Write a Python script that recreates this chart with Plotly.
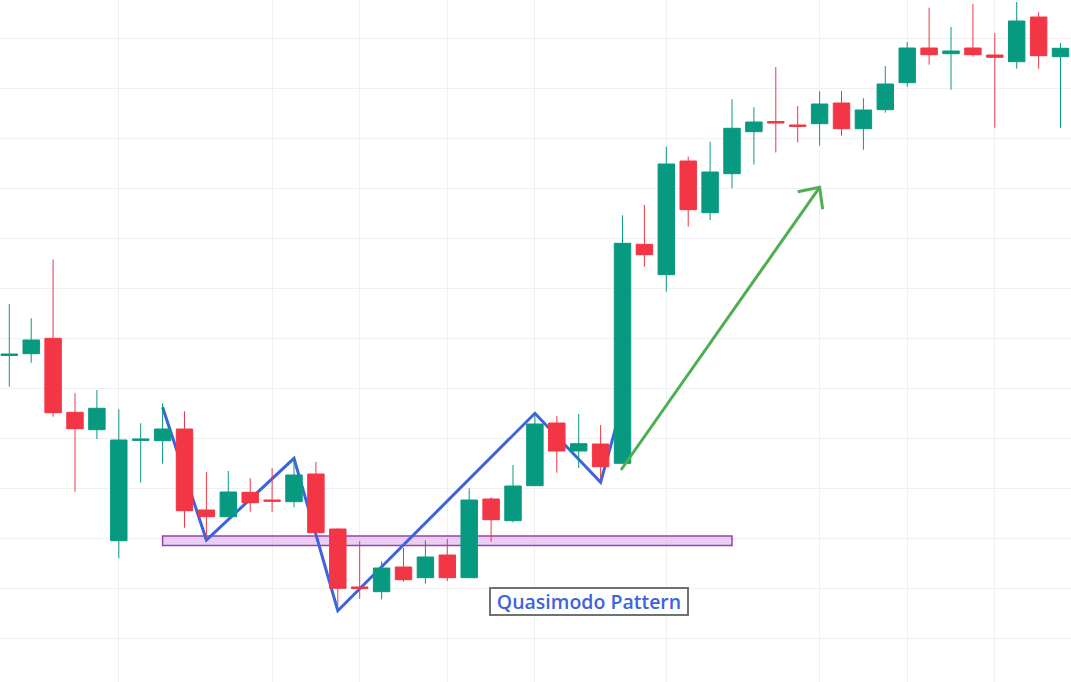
import plotly.graph_objects as go

# ---- data (price units; gridlines every 10) ----
idx = list(range(49))
opens = [66.5, 66.86, 69.94, 55.14, 51.66, 29.46, 49.52, 49.46, 51.8, 35.6,
         34.26, 39.14, 37.6, 37.26, 42.8, 31.8, 20.2, 19.26, 24.2, 22.06,
         26.6, 22.06, 37.8, 33.46, 40.46, 53.0, 47.4, 48.8, 44.94, 88.74,
         82.66, 105.4, 95.06, 102.86, 111.26, 113.28, 112.6, 112.86, 117.0, 111.86,
         115.66, 121.06, 128.0, 126.86, 128.0, 126.6, 125.26, 134.2, 126.26]
highs = [76.8, 73.94, 85.74, 58.94, 59.6, 55.74, 52.94, 56.94, 55.34, 43.2,
         43.4, 41.94, 43.94, 46.0, 45.2, 31.9, 29.34, 25.34, 28.0, 29.54,
         29.8, 39.94, 38.14, 44.6, 55.0, 54.4, 54.8, 52.6, 94.54, 96.6,
         108.26, 106.26, 109.26, 117.74, 116.14, 124.2, 116.4, 119.34, 119.4, 117.94,
         124.4, 129.2, 136.06, 132.2, 136.8, 131.0, 137.2, 135.14, 129.0]
lows = [60.26, 65.06, 54.26, 39.26, 49.8, 25.94, 41.06, 44.86, 32.06, 30.3,
        34.2, 35.26, 35.26, 36.14, 31.0, 16.4, 17.86, 17.74, 21.26, 20.86,
        21.4, 22.0, 29.26, 33.14, 40.4, 43.06, 44.0, 42.0, 44.9, 84.26,
        79.26, 92.26, 93.6, 99.94, 104.7, 107.1, 109.1, 108.5, 110.46, 107.66,
        115.06, 120.26, 124.66, 119.66, 126.26, 112.06, 123.86, 123.86, 112.06]
closes = [66.8, 69.6, 55.06, 51.86, 55.94, 49.6, 49.8, 51.8, 35.46, 34.26,
          39.2, 37.06, 37.36, 42.6, 31.06, 19.94, 19.92, 24.0, 21.66, 26.2,
          22.06, 37.6, 33.66, 40.4, 52.8, 47.4, 48.86, 44.26, 88.94, 86.66,
          104.8, 95.66, 103.2, 111.94, 113.2, 113.0, 112.32, 116.8, 111.86, 115.6,
          120.8, 128.0, 126.66, 127.4, 126.66, 126.14, 133.4, 126.46, 127.94]

y_grid = [10, 20, 30, 40, 50, 60, 70, 80, 90, 100, 110, 120, 130]
x_grid = [5, 12, 16, 20, 24, 30, 37, 41, 45]

# pattern overlay (zigzag, zone, arrow, label)
zig_x = [7.0, 9.0, 13.0, 15.0, 24.0, 27.0, 27.8]
zig_y = [56.14, 29.6, 45.94, 15.46, 54.94, 41.12, 53.8]
zone_x = [7.0, 33.0]
zone_y = [28.5, 30.4]
arrow_x = [27.93, 37.0]
arrow_y = [43.6, 100.14]
head_x = [36.0, 37.0, 37.14]
head_y = [99.26, 100.14, 95.74]
label_text = "Quasimodo Pattern"
label_pos = (26.49, 17.3)

GREEN = "#089981"
RED = "#f23645"

fig = go.Figure()
fig.add_trace(go.Candlestick(
    x=idx, open=opens, high=highs, low=lows, close=closes,
    increasing=dict(line=dict(color=GREEN, width=1), fillcolor=GREEN),
    decreasing=dict(line=dict(color=RED, width=1), fillcolor=RED),
    whiskerwidth=0, showlegend=False, hoverinfo="skip",
))

# arrow shaft + head
fig.add_trace(go.Scatter(x=arrow_x, y=arrow_y, mode="lines",
                         line=dict(color="#4caf50", width=3), showlegend=False,
                         hoverinfo="skip"))
fig.add_trace(go.Scatter(x=head_x, y=head_y, mode="lines",
                         line=dict(color="#4caf50", width=3), showlegend=False,
                         hoverinfo="skip"))

shapes = [
    dict(type="rect", xref="x", yref="y", x0=zone_x[0], x1=zone_x[1],
         y0=zone_y[0], y1=zone_y[1], fillcolor="rgba(215,160,230,0.5)",
         line=dict(color="#9c3fb0", width=1.5), layer="between"),
    dict(type="path", xref="x", yref="y",
         path="M " + " L ".join(f"{a},{b}" for a, b in zip(zig_x, zig_y)),
         line=dict(color="#3d63dd", width=3), layer="between"),
]

fig.update_layout(
    width=1071, height=682, autosize=False,
    margin=dict(l=0, r=0, t=0, b=0),
    paper_bgcolor="white", plot_bgcolor="white",
    boxgap=0.25, boxgroupgap=0,
    shapes=shapes,
    xaxis=dict(range=[-0.4247, 48.479], rangeslider=dict(visible=False),
               tickmode="array", tickvals=x_grid, showticklabels=False,
               showgrid=True, gridcolor="#eef0f3", gridwidth=1,
               zeroline=False, showline=False, fixedrange=True),
    yaxis=dict(range=[1.2, 137.6], tickmode="array", tickvals=y_grid,
               showticklabels=False, showgrid=True, gridcolor="#eef0f3",
               gridwidth=1, zeroline=False, showline=False, fixedrange=True),
    annotations=[dict(x=label_pos[0], y=label_pos[1], xref="x", yref="y",
                      text=label_text, showarrow=False,
                      font=dict(family="Open Sans", size=19.5, color="#3d63dd", weight=600),
                      bgcolor="white", bordercolor="#6b7378", borderwidth=2,
                      borderpad=1, width=194, height=23)],
)

fig.write_html("out.html", config={"displayModeBar": False},
               post_script="document.body.style.margin='0';document.body.style.overflow='hidden';")
